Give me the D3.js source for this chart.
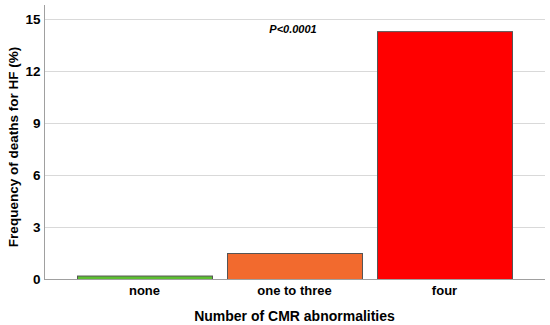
<!DOCTYPE html>
<html>
<head>
<meta charset="utf-8">
<script src="https://cdn.jsdelivr.net/npm/d3@7"></script>
<style>
body { margin: 0; background: #fff; }
text { font-family: Arial, "Liberation Sans", sans-serif; }
</style>
</head>
<body>
<svg></svg>
<script>
const svgWidth = 550
const svgHeight = 325
const margins = {top: 19, bottom: 46, left: 44, right: 5}

const categories = ["none", "one to three", "four"]
const values = [0.2, 1.5, 14.3]
const barColors = ["#5cbf30", "#f26a2e", "#ff0000"]
const yTicks = [0, 3, 6, 9, 12, 15]

const plotHeight = svgHeight - margins.top - margins.bottom
const plotWidth = svgWidth - margins.left - margins.right

const svg = d3.select("svg")
  .attr("width", svgWidth)
  .attr("height", svgHeight)

const xScale = d3.scaleBand()
  .domain(categories)
  .range([margins.left, margins.left + plotWidth])
  .paddingInner(0.1)
  .paddingOuter(0.22)

const yScale = d3.scaleLinear()
  .domain([0, 15])
  .range([margins.top + plotHeight, margins.top])

// grid lines
svg.append("g")
  .selectAll("line")
  .data(yTicks.filter(d => d > 0))
  .enter()
  .append("line")
  .attr("x1", margins.left)
  .attr("x2", margins.left + plotWidth)
  .attr("y1", d => yScale(d) + 0.5)
  .attr("y2", d => yScale(d) + 0.5)
  .attr("stroke", "#d9d9d9")
  .attr("stroke-width", 1)

// y axis
const yAxis = svg.append("g")
  .attr("transform", `translate(${margins.left + 0.5},0)`)
  .call(d3.axisLeft(yScale).tickValues(yTicks).tickSize(0).tickPadding(4))
yAxis.select(".domain").remove()
yAxis.append("line")
  .attr("y1", 5)
  .attr("y2", yScale(0))
  .attr("stroke", "#a0a0a0")
yAxis.selectAll("text")
  .attr("font-size", 13.5)
  .attr("font-weight", "bold")
  .attr("fill", "#000")

// bars
svg.selectAll("rect.bar")
  .data(values)
  .enter()
  .append("rect")
  .attr("class", "bar")
  .attr("x", (d, i) => xScale(categories[i]) + 0.5)
  .attr("y", d => yScale(d) + 0.5)
  .attr("width", xScale.bandwidth())
  .attr("height", d => yScale(0) - yScale(d))
  .attr("fill", (d, i) => barColors[i])
  .attr("stroke", "#555")
  .attr("stroke-width", 1)

// x axis
const xAxis = svg.append("g")
  .attr("transform", `translate(0,${yScale(0) + 0.5})`)
  .call(d3.axisBottom(xScale).tickSize(0).tickPadding(6))
xAxis.select(".domain").remove()
xAxis.append("line")
  .attr("x1", margins.left)
  .attr("x2", margins.left + plotWidth)
  .attr("stroke", "#a0a0a0")
xAxis.selectAll("text")
  .attr("font-size", 13)
  .attr("font-weight", "bold")
  .attr("fill", "#000")

// axis titles
svg.append("text")
  .attr("x", xScale("one to three") + xScale.bandwidth() / 2)
  .attr("y", 321)
  .attr("text-anchor", "middle")
  .attr("font-size", 14)
  .attr("font-weight", "bold")
  .text("Number of CMR abnormalities")

svg.append("text")
  .attr("transform", `translate(18,${(margins.top + yScale(0)) / 2 - 2}) rotate(-90)`)
  .attr("text-anchor", "middle")
  .attr("font-size", 13.5)
  .attr("font-weight", "bold")
  .text("Frequency of deaths for HF (%)")

svg.append("text")
  .attr("x", 293)
  .attr("y", 33)
  .attr("text-anchor", "middle")
  .attr("font-size", 11)
  .attr("font-weight", "bold")
  .attr("font-style", "italic")
  .text("P<0.0001")
</script>
</body>
</html>
